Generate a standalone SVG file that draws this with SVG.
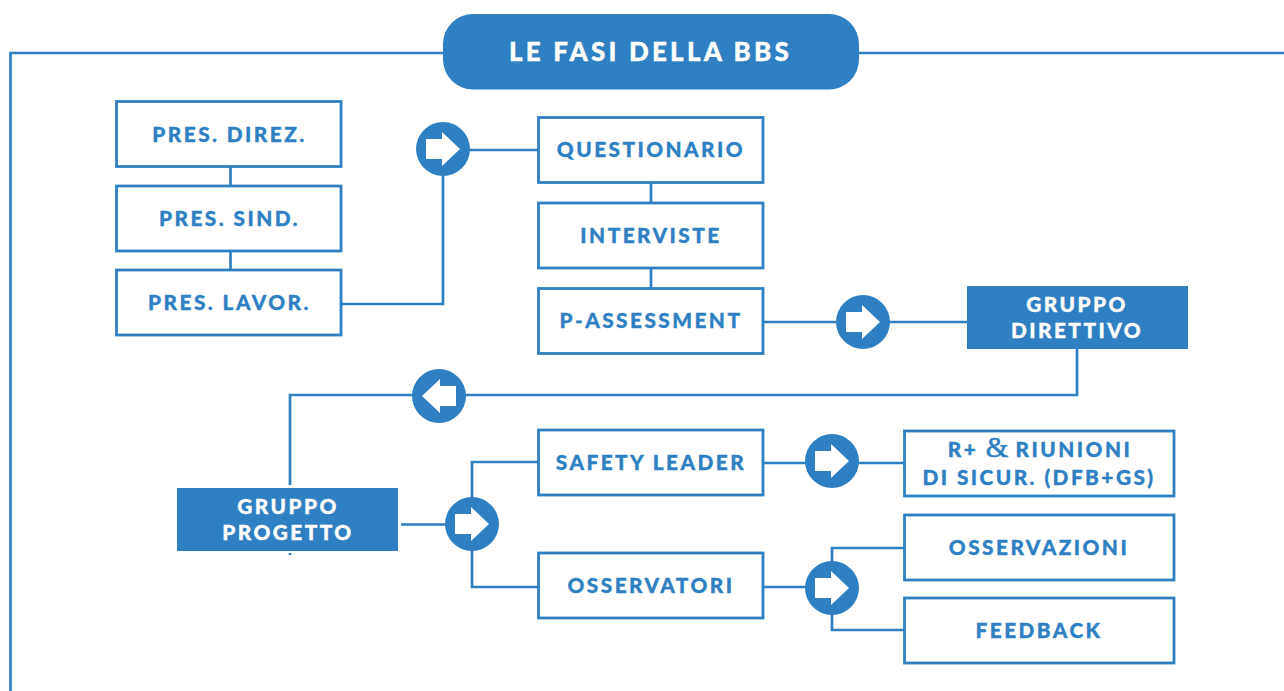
<svg xmlns="http://www.w3.org/2000/svg" width="1284" height="691" viewBox="0 0 1284 691">
<defs>
<polygon id="ar" points="-17,-10 -1,-10 -1,-17 17,0 -1,17 -1,10 -17,10" fill="#fff"/>
</defs>
<style>
.c{fill:none;stroke:#2f80c3;stroke-width:2.7}
.b{fill:#fff;stroke:#2f80c3;stroke-width:2.8}
.f{fill:#2f80c3}
text{font-family:"Lato","Noto Sans","Liberation Sans",sans-serif;font-weight:900;font-size:20.800px;letter-spacing:2.45px;text-anchor:middle;fill:#2f80c3;stroke:#2f80c3;stroke-width:.35px}
.w{fill:#fff;stroke:#fff}
.t{font-size:26px;letter-spacing:3.2px}
.a{font-family:"Liberation Serif",serif;font-weight:400;font-size:29px;letter-spacing:0;stroke-width:.6px}
</style>
<rect width="1284" height="691" fill="#fff"/>
<g id="connectors">
<path class="c" d="M443 53H10.500V691M859 53H1284"/>
<path class="c" d="M230.500 167V186M230.500 251V270M341 304H443V150H538"/>
<path class="c" d="M651 183V203M651 268V288M763 322H967"/>
<path class="c" d="M1077 349V395H290V485M290 553V555"/>
<path class="c" d="M401 524.500H472M538 462H472V587H538"/>
<path class="c" d="M763 463H904M763 587H832M904 548H832V630H904"/>
</g>
<g id="title"><rect class="f" x="443" y="14" width="416" height="75.500" rx="30"/><text class="w t" x="650.500" y="61">LE FASI DELLA BBS</text></g>
<g id="pres-direz"><rect class="b" x="116.500" y="101.500" width="224.500" height="65"/><text x="229.500" y="142">PRES. DIREZ.</text></g>
<g id="pres-sind"><rect class="b" x="116.500" y="186" width="224.500" height="65"/><text x="229.500" y="226">PRES. SIND.</text></g>
<g id="pres-lavor"><rect class="b" x="116.500" y="270" width="224.500" height="65"/><text x="229.500" y="310">PRES. LAVOR.</text></g>
<g id="questionario"><rect class="b" x="538.500" y="117.500" width="224.500" height="65"/><text x="651" y="157">QUESTIONARIO</text></g>
<g id="interviste"><rect class="b" x="538.500" y="203" width="224.500" height="65"/><text x="651" y="243">INTERVISTE</text></g>
<g id="p-assessment"><rect class="b" x="538.500" y="288.500" width="224.500" height="65"/><text x="651" y="328">P-ASSESSMENT</text></g>
<g id="gruppo-direttivo"><rect class="f" x="967" y="286" width="221" height="63"/><text class="w" x="1077" y="312">GRUPPO</text><text class="w" x="1077" y="338">DIRETTIVO</text></g>
<g id="gruppo-progetto"><rect class="f" x="177" y="488" width="221" height="63"/><text class="w" x="288" y="514">GRUPPO</text><text class="w" x="288" y="540">PROGETTO</text></g>
<g id="safety-leader"><rect class="b" x="538.500" y="430" width="224.500" height="65"/><text x="651" y="470">SAFETY LEADER</text></g>
<g id="osservatori"><rect class="b" x="538.500" y="553" width="224.500" height="65"/><text x="651" y="593">OSSERVATORI</text></g>
<g id="riunioni"><rect class="b" x="904.500" y="431" width="269.500" height="65"/><text x="1040" y="457">R+ <tspan class="a">&amp;</tspan> RIUNIONI</text><text x="1039" y="485">DI SICUR. (DFB+GS)</text></g>
<g id="osservazioni"><rect class="b" x="904.500" y="515" width="269.500" height="65"/><text x="1039" y="555">OSSERVAZIONI</text></g>
<g id="feedback"><rect class="b" x="904.500" y="598" width="269.500" height="65"/><text x="1039" y="638">FEEDBACK</text></g>
<g id="arrow-1"><circle class="f" cx="443" cy="149" r="27"/><use href="#ar" x="443" y="149"/></g>
<g id="arrow-2"><circle class="f" cx="863" cy="322" r="27"/><use href="#ar" x="863" y="322"/></g>
<g id="arrow-3"><circle class="f" cx="439" cy="396" r="27"/><use href="#ar" transform="translate(439 396) scale(-1 1)"/></g>
<g id="arrow-4"><circle class="f" cx="472" cy="524" r="27"/><use href="#ar" x="472" y="524"/></g>
<g id="arrow-5"><circle class="f" cx="832" cy="461" r="27"/><use href="#ar" x="832" y="461"/></g>
<g id="arrow-6"><circle class="f" cx="832" cy="588" r="27"/><use href="#ar" x="832" y="588"/></g>
</svg>
